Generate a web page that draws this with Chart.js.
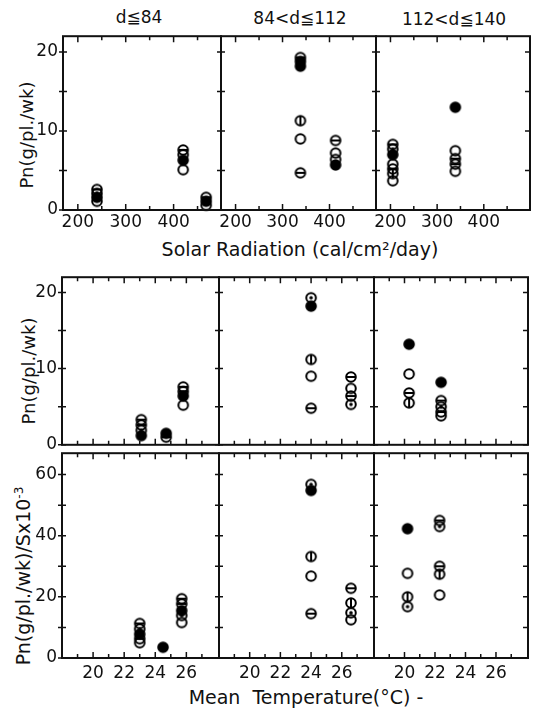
<!DOCTYPE html>
<html>
<head>
<meta charset="utf-8">
<script src="https://cdn.jsdelivr.net/npm/chart.js@4.4.1/dist/chart.umd.min.js"></script>
<style>
  body { margin: 0; background: #fff; }
  #fig { position: relative; width: 536px; height: 711px; overflow: hidden;
         font-family: "DejaVu Sans", sans-serif; color: #111; }
  #fig canvas { position: absolute; }
  .txt { position: absolute; font-size: 18px; white-space: nowrap; transform: translate(-50%, -50%); }
  .ytitle { position: absolute; font-size: 18px; white-space: nowrap;
            transform: translate(-50%, -50%) rotate(-90deg); }
  .ytitle sup { font-size: 12px; }
</style>
</head>
<body>
<div id="fig">
  <div class="txt" style="left:139px;top:17px;font-size:17px">d≦84</div>
  <div class="txt" style="left:300px;top:18px;font-size:17px">84&lt;d≦112</div>
  <div class="txt" style="left:454px;top:19px;font-size:17px">112&lt;d≦140</div>
  <div class="txt" style="left:300px;top:249px;font-size:19px">Solar Radiation (cal/cm²/day)</div>
  <div class="txt" style="left:306px;top:697px;font-size:19px">Mean&nbsp; Temperature(°C) -</div>
  <div class="ytitle" style="left:26px;top:135px">Pn(g/pl./wk)</div>
  <div class="ytitle" style="left:28px;top:371px">Pn(g/pl./wk)</div>
  <div class="ytitle" style="left:23px;top:576px;font-size:19px">Pn(g/pl./wk)/Sx10<sup>-3</sup></div>
</div>
<script>
// axis ticks and labels
const solarTicks = [200, 250, 300, 350, 400, 450];
const solarLabels = [200, 300, 400];
const tempTicks = [19, 20, 21, 22, 23, 24, 25, 26, 27];
const tempLabels = [20, 22, 24, 26];
const pnTicks = [0, 5, 10, 15, 20];
const pnLabels = [0, 10, 20];
const pnsTicks = [0, 10, 20, 30, 40, 50, 60];
const pnsLabels = [0, 20, 40, 60];

// marker kinds: o open, b horizontal bar, v vertical bar, d dotted, f filled
// Row 1: Pn vs solar radiation
const solarD84X = [240, 240, 240, 240, 420, 420, 420, 420, 468, 468, 468];
const solarD84Y = [2.6, 2.1, 1.6, 1.1, 7.6, 7.0, 6.3, 5.1, 1.6, 1.1, 0.6];
const solarD84M = ['b', 'd', 'f', 'o', 'b', 'o', 'f', 'o', 'b', 'f', 'o'];
const solarD112X = [338, 338, 338, 338, 338, 338, 413, 413, 413, 413];
const solarD112Y = [19.3, 18.8, 18.2, 11.3, 9.0, 4.7, 8.8, 7.2, 6.4, 5.7];
const solarD112M = ['b', 'f', 'f', 'v', 'o', 'b', 'b', 'o', 'o', 'f'];
const solarD140X = [205, 205, 205, 205, 205, 205, 205, 339, 339, 339, 339, 339];
const solarD140Y = [8.3, 7.7, 7.0, 5.8, 5.2, 4.6, 3.7, 13.0, 7.5, 6.5, 5.8, 4.9];
const solarD140M = ['b', 'd', 'f', 'o', 'b', 'v', 'o', 'f', 'o', 'b', 'b', 'o'];

// Row 2: Pn vs mean temperature
const tempD84X = [23.1, 23.1, 23.1, 23.1, 24.7, 24.7, 25.8, 25.8, 25.8, 25.8];
const tempD84Y = [3.3, 2.6, 1.9, 1.2, 1.5, 1.0, 7.6, 7.0, 6.4, 5.2];
const tempD84M = ['b', 'b', 'd', 'f', 'f', 'b', 'b', 'b', 'f', 'o'];
const tempD112X = [24, 24, 24, 24, 24, 26.6, 26.6, 26.6, 26.6];
const tempD112Y = [19.3, 18.2, 11.2, 9.0, 4.8, 8.9, 7.4, 6.4, 5.3];
const tempD112M = ['d', 'f', 'v', 'o', 'b', 'b', 'o', 'b', 'd'];
const tempD140X = [20.3, 20.3, 20.3, 20.3, 22.4, 22.4, 22.4, 22.4, 22.4];
const tempD140Y = [13.2, 9.3, 6.8, 5.5, 8.2, 5.8, 5.0, 4.3, 3.8];
const tempD140M = ['f', 'o', 'b', 'v', 'f', 'b', 'd', 'b', 'o'];

// Row 3: Pn/S vs mean temperature
const pnsD84X = [23.0, 23.0, 23.0, 23.0, 23.0, 24.5, 25.7, 25.7, 25.7, 25.7, 25.7];
const pnsD84Y = [11.3, 9.5, 7.8, 6.3, 5.0, 3.5, 19.4, 17.7, 15.5, 13.9, 11.6];
const pnsD84M = ['b', 'd', 'f', 'b', 'o', 'f', 'b', 'b', 'f', 'd', 'o'];
const pnsD112X = [24, 24, 24, 24, 24, 26.6, 26.6, 26.6, 26.6];
const pnsD112Y = [56.8, 54.8, 33.2, 26.8, 14.5, 22.8, 18.0, 14.8, 12.5];
const pnsD112M = ['d', 'f', 'v', 'o', 'b', 'b', 'v', 'd', 'o'];
const pnsD140X = [20.2, 20.2, 20.2, 20.2, 22.3, 22.3, 22.3, 22.3, 22.3];
const pnsD140Y = [42.3, 27.7, 20.0, 16.8, 45.0, 43.0, 30.0, 27.4, 20.6];
const pnsD140M = ['f', 'o', 'v', 'd', 'b', 'd', 'b', 'v', 'o'];

Chart.defaults.font.family = '"DejaVu Sans", sans-serif';
Chart.defaults.font.size = 16;
Chart.defaults.color = '#111';

function makeMarker(kind) {
  const c = document.createElement('canvas');
  c.width = 14;
  c.height = 14;
  const g = c.getContext('2d');
  g.strokeStyle = '#000';
  g.fillStyle = '#000';
  g.lineWidth = 2;
  g.beginPath();
  g.arc(7, 7, 4.8, 0, Math.PI * 2);
  if (kind === 'f') g.fill();
  g.stroke();
  if (kind === 'b') {
    g.beginPath(); g.moveTo(2.5, 7); g.lineTo(11.5, 7); g.stroke();
  } else if (kind === 'v') {
    g.beginPath(); g.moveTo(7, 2.5); g.lineTo(7, 11.5); g.stroke();
  } else if (kind === 'd') {
    g.beginPath(); g.arc(7, 7, 1.8, 0, Math.PI * 2); g.fill();
  }
  return c;
}
const markers = {};
['o', 'b', 'v', 'd', 'f'].forEach((k) => (markers[k] = makeMarker(k)));

// frame with inward/crossing ticks
const framePlugin = {
  id: 'frame',
  afterDatasetsDraw(chart, args, opts) {
    const { ctx, chartArea: a, scales } = chart;
    const x = scales.x, y = scales.y;
    ctx.save();
    ctx.strokeStyle = '#111';
    ctx.lineWidth = 1.5;
    ctx.beginPath();
    opts.xTicks.forEach((v) => {
      const px = x.getPixelForValue(v);
      const len = opts.xLabels.includes(v) ? 6 : 4;
      ctx.moveTo(px, a.bottom); ctx.lineTo(px, a.bottom - len);
      ctx.moveTo(px, a.top); ctx.lineTo(px, a.top + len);
    });
    opts.yTicks.forEach((v) => {
      const py = y.getPixelForValue(v);
      ctx.moveTo(a.left - 4, py); ctx.lineTo(a.left + 4, py);
      if (opts.last) { ctx.moveTo(a.right - 5, py); ctx.lineTo(a.right, py); }
    });
    ctx.stroke();
    ctx.lineWidth = 2;
    ctx.strokeRect(a.left, a.top, a.right - a.left, a.bottom - a.top);
    ctx.restore();
  },
};

const solarCols = [63, 221, 376, 530];
const tempCols = [62, 219, 374, 528];

const panels = [
  { row: 0, col: 0, xs: solarD84X, ys: solarD84Y, ms: solarD84M },
  { row: 0, col: 1, xs: solarD112X, ys: solarD112Y, ms: solarD112M },
  { row: 0, col: 2, xs: solarD140X, ys: solarD140Y, ms: solarD140M },
  { row: 1, col: 0, xs: tempD84X, ys: tempD84Y, ms: tempD84M },
  { row: 1, col: 1, xs: tempD112X, ys: tempD112Y, ms: tempD112M },
  { row: 1, col: 2, xs: tempD140X, ys: tempD140Y, ms: tempD140M },
  { row: 2, col: 0, xs: pnsD84X, ys: pnsD84Y, ms: pnsD84M },
  { row: 2, col: 1, xs: pnsD112X, ys: pnsD112Y, ms: pnsD112M },
  { row: 2, col: 2, xs: pnsD140X, ys: pnsD140Y, ms: pnsD140M },
];

const rowSpec = [
  { top: 33, bottom: 210, cols: solarCols, xMin: 169, xMax: 499, xTicks: solarTicks, xLabels: solarLabels,
    yMax: 22, yTicks: pnTicks, yLabels: pnLabels, xH: 28, xPad: 2, showX: true },
  { top: 274, bottom: 450, cols: tempCols, xMin: 18, xMax: 28.1, xTicks: tempTicks, xLabels: tempLabels,
    yMax: 22, yTicks: pnTicks, yLabels: pnLabels, xH: 10, xPad: 2, showX: false },
  { top: 450, bottom: 658, cols: tempCols, xMin: 18, xMax: 28.1, xTicks: tempTicks, xLabels: tempLabels,
    yMax: 67, yTicks: pnsTicks, yLabels: pnsLabels, xH: 30, xPad: 5, showX: true },
];

const fig = document.getElementById('fig');
const PAD_T = 12, PAD_R = 6, PAD_L = 6;

panels.forEach((p) => {
  const r = rowSpec[p.row];
  const L = r.cols[p.col], R = r.cols[p.col + 1];
  const first = p.col === 0, last = p.col === 2;
  const cLeft = first ? 0 : L - PAD_L;
  const canvas = document.createElement('canvas');
  canvas.width = R + PAD_R - cLeft;
  canvas.height = r.bottom - r.top + PAD_T + r.xH;
  canvas.style.left = cLeft + 'px';
  canvas.style.top = (r.top - PAD_T) + 'px';
  fig.appendChild(canvas);

  new Chart(canvas, {
    type: 'scatter',
    data: {
      datasets: [{
        data: p.xs.map((x, i) => ({ x, y: p.ys[i] })),
        pointStyle: p.ms.map((m) => markers[m]),
        pointRadius: 5,
        showLine: false,
        clip: false,
      }],
    },
    options: {
      responsive: false,
      animation: false,
      events: [],
      layout: { padding: { top: PAD_T, right: PAD_R, left: first ? 0 : PAD_L, bottom: 0 } },
      scales: {
        x: {
          type: 'linear',
          min: r.xMin,
          max: r.xMax,
          afterBuildTicks: (s) => { s.ticks = r.xTicks.map((v) => ({ value: v })); },
          afterFit: (s) => { s.height = r.xH; },
          grid: { display: false, drawTicks: false },
          border: { display: false },
          ticks: {
            padding: r.xPad,
            maxRotation: 0,
            autoSkip: false,
            font: { size: 17 },
            callback: (v) => (r.showX && r.xLabels.includes(v) ? String(v) : ''),
          },
        },
        y: {
          type: 'linear',
          min: 0,
          max: r.yMax,
          afterBuildTicks: (s) => { s.ticks = r.yTicks.map((v) => ({ value: v })); },
          afterFit: (s) => { s.width = first ? L : 0; },
          grid: { display: false, drawTicks: false },
          border: { display: false },
          ticks: {
            padding: 5,
            autoSkip: false,
            font: { size: 17 },
            callback: (v) => (first && r.yLabels.includes(v) ? String(v) : ''),
          },
        },
      },
      plugins: {
        legend: { display: false },
        tooltip: { enabled: false },
        frame: { xTicks: r.xTicks, xLabels: r.xLabels, yTicks: r.yTicks, last },
      },
    },
    plugins: [framePlugin],
  });
});
</script>
</body>
</html>
